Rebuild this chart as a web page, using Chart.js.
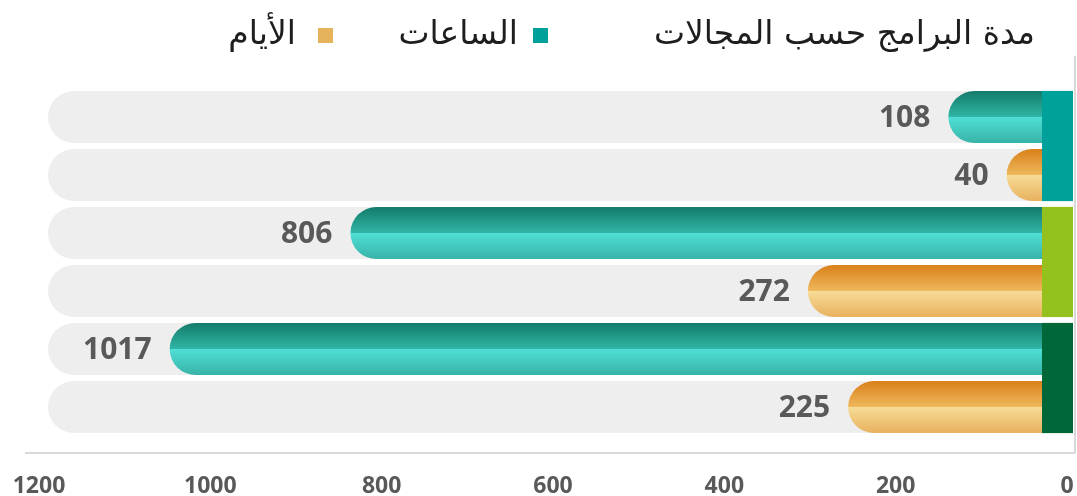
<!DOCTYPE html>
<html lang="ar">
<head>
<meta charset="utf-8">
<script src="https://cdn.jsdelivr.net/npm/chart.js@4"></script>
<style>
  html, body { margin: 0; padding: 0; background: #fff; }
  #wrap { position: relative; width: 1077px; height: 496px; }
  #wrap canvas { position: absolute; left: 0; top: 0; }
  .hdr { position: absolute; direction: rtl; white-space: nowrap;
         font-family: 'DejaVu Sans', sans-serif; color: #1e1e1e; }
  .title { right: 42px; top: 13px; font-size: 33px; }
  .lg-text { top: 13px; font-size: 33px; }
  .sw { position: absolute; width: 15px; height: 15px; top: 28px; }
</style>
</head>
<body>
<div id="wrap">
  <canvas id="chart" width="1077" height="496"></canvas>
  <div class="hdr title">مدة البرامج حسب المجالات</div>
  <div class="sw" style="left:533px;background:#00a19a"></div>
  <div class="hdr lg-text" style="right:559px">الساعات</div>
  <div class="sw" style="left:318px;background:#e5b35c"></div>
  <div class="hdr lg-text" style="right:781px">الأيام</div>
</div>
<script>
/* ── data ───────────────────────────────────────────── */
const categories  = ['المجال الأول', 'المجال الثاني', 'المجال الثالث'];
const seriesNames = ['الساعات', 'الأيام'];
const hours       = [108, 806, 1017];
const days        = [40, 272, 225];
const xTicks      = [0, 200, 400, 600, 800, 1000, 1200];
const stripColors = ['#00a19a', '#95c11f', '#006838'];

/* ── style constants ────────────────────────────────── */
const TRACK = '#eeeeee';
const LABEL = '#595959';
const GRADS = [
  [[0, '#137b6b'], [0.49, '#30b4a4'], [0.5, '#4fdfd6'], [1, '#38b3a7']],
  [[0, '#d9801a'], [0.49, '#eeb75a'], [0.5, '#f7dc97'], [1, '#e8b15e']],
];

function pillPath(ctx, base, end, y, h) {
  const r = h / 2;
  ctx.beginPath();
  ctx.moveTo(base, y - r);
  ctx.lineTo(end, y - r);
  ctx.arc(end, y, r, -Math.PI / 2, Math.PI / 2, true);
  ctx.lineTo(base, y + r);
  ctx.closePath();
}

/* track + custom bar shapes, colour strips, value labels */
const barDecor = {
  id: 'barDecor',
  beforeDatasetsDraw(chart) {
    const { ctx, chartArea } = chart;
    ctx.save();
    ctx.fillStyle = TRACK;
    chart.data.datasets.forEach((ds, di) => {
      chart.getDatasetMeta(di).data.forEach(bar => {
        const h = bar.height;
        pillPath(ctx, chartArea.right, chartArea.left + 9 + h / 2, bar.y, h);
        ctx.fill();
      });
    });
    ctx.restore();
  },
  afterDatasetsDraw(chart) {
    const { ctx, chartArea } = chart;
    ctx.save();
    chart.data.datasets.forEach((ds, di) => {
      chart.getDatasetMeta(di).data.forEach(bar => {
        const h = bar.height;
        const g = ctx.createLinearGradient(0, bar.y - h / 2, 0, bar.y + h / 2);
        GRADS[di].forEach(([o, c]) => g.addColorStop(o, c));
        ctx.fillStyle = g;
        pillPath(ctx, bar.base, bar.x, bar.y, h);
        ctx.fill();
      });
    });

    // category strips on the right edge
    const meta0 = chart.getDatasetMeta(0).data;
    const meta1 = chart.getDatasetMeta(1).data;
    stripColors.forEach((c, i) => {
      const a = meta0[i], b = meta1[i];
      const top = a.y - a.height / 2, bot = b.y + b.height / 2;
      ctx.fillStyle = c;
      ctx.fillRect(chartArea.right - 25, top, 31, bot - top);
    });

    // value labels
    ctx.fillStyle = LABEL;
    ctx.font = "bold 30px 'Open Sans'";
    ctx.textAlign = 'right';
    ctx.textBaseline = 'middle';
    chart.data.datasets.forEach((ds, di) => {
      chart.getDatasetMeta(di).data.forEach((bar, i) => {
        ctx.fillText(String(ds.data[i]), bar.x - bar.height / 2 - 18, bar.y + 1);
      });
    });

    // axis line and right border
    ctx.strokeStyle = '#d9d9d9';
    ctx.lineWidth = 2;
    const axisY = chartArea.bottom + 17;
    ctx.beginPath();
    ctx.moveTo(25, axisY);
    ctx.lineTo(chartArea.right + 8, axisY);
    ctx.moveTo(chartArea.right + 8, 56);
    ctx.lineTo(chartArea.right + 8, axisY);
    ctx.stroke();
    ctx.restore();
  }
};

new Chart(document.getElementById('chart'), {
  type: 'bar',
  data: {
    labels: categories,
    datasets: [
      { label: seriesNames[0], data: hours, backgroundColor: 'transparent' },
      { label: seriesNames[1], data: days,  backgroundColor: 'transparent' },
    ],
  },
  options: {
    indexAxis: 'y',
    responsive: false,
    animation: false,
    events: [],
    categoryPercentage: 1,
    barPercentage: 0.9,
    layout: { padding: { top: 88, left: 39, right: 10, bottom: 0 } },
    plugins: { legend: { display: false }, tooltip: { enabled: false } },
    scales: {
      x: {
        reverse: true,
        min: xTicks[0], max: xTicks[xTicks.length - 1],
        afterBuildTicks: s => { s.ticks = xTicks.map(v => ({ value: v })); },
        afterFit: s => { s.height = 60; },
        grid: { display: false, drawTicks: false },
        border: { display: false },
        ticks: {
          padding: 41,
          color: LABEL,
          maxRotation: 0,
          callback: v => String(v),
          font: { family: "'Open Sans'", weight: 'bold', size: 23, lineHeight: 0.8 },
        },
      },
      y: { display: false },
    },
  },
  plugins: [barDecor],
});
</script>
</body>
</html>
